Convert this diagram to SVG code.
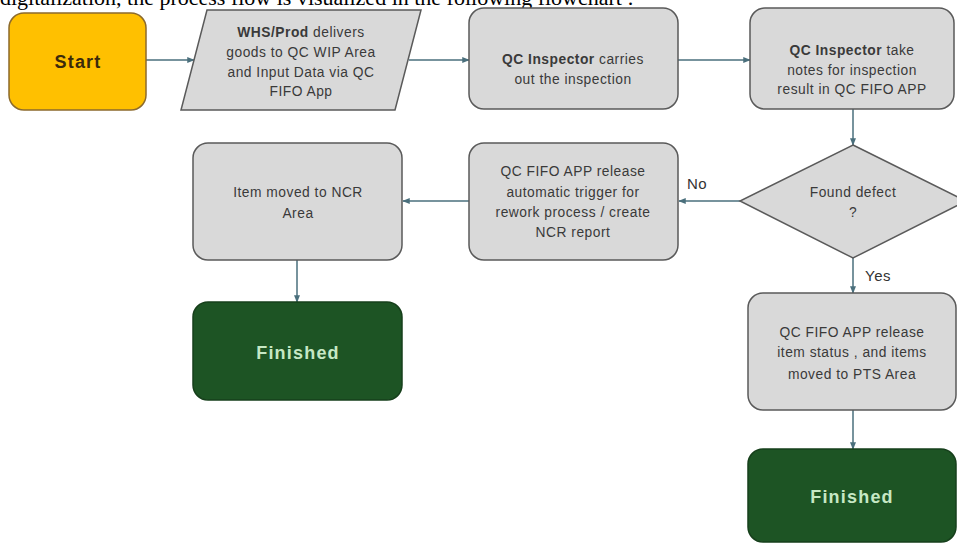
<svg xmlns="http://www.w3.org/2000/svg" width="957" height="544" viewBox="0 0 957 544">
  <defs>
    <marker id="arrow" viewBox="0 0 10 10" refX="9" refY="5" markerWidth="5" markerHeight="5" orient="auto-start-reverse">
      <path d="M0,1 L10,5 L0,9 z" fill="#4a6f7c"/>
    </marker>
    <style>
      .proc { fill: #d9d9d9; stroke: #5a5a5a; stroke-width: 1.5; }
      .term-start { fill: #ffc000; stroke: #8c6a2c; stroke-width: 1.5; }
      .term-end { fill: #1d5424; stroke: #163f1b; stroke-width: 1.5; }
      .lbl { font-family: "Liberation Sans", Arial, sans-serif; font-size: 13.8px; fill: #3a3a3a; text-anchor: middle; letter-spacing: 0.5px; }
      .bold { font-weight: bold; }
      .big { font-family: "Liberation Sans", Arial, sans-serif; font-size: 18px; font-weight: bold; text-anchor: middle; letter-spacing: 1.2px; }
      .edge { fill: none; stroke: #4a6f7c; stroke-width: 1.5; marker-end: url(#arrow); }
      .edge-lbl { font-family: "Liberation Sans", Arial, sans-serif; font-size: 15px; fill: #333; letter-spacing: 0.5px; }
      .caption { font-family: "Liberation Serif", "Times New Roman", serif; font-size: 22px; fill: #000; }
    </style>
  </defs>

  <rect width="957" height="544" fill="#ffffff"/>

  <text class="caption" x="0" y="5">digitalization, the process flow is visualized in the following flowchart :</text>

  <g id="connectors">
    <path class="edge" d="M146,60 L194,60"/>
    <path class="edge" d="M409,60 L469,60"/>
    <path class="edge" d="M678,60 L750,60"/>
    <path class="edge" d="M853,109 L853,145"/>
    <path class="edge" d="M740,201 L679,201"/>
    <path class="edge" d="M469,201 L403,201"/>
    <path class="edge" d="M297,260 L297,302"/>
    <path class="edge" d="M853,258 L853,293"/>
    <path class="edge" d="M853,410 L853,449"/>
    <text class="edge-lbl" x="687" y="189">No</text>
    <text class="edge-lbl" x="865" y="281">Yes</text>
  </g>

  <g id="start">
    <rect class="term-start" x="9" y="13" width="137" height="97" rx="15"/>
    <text class="big" x="78" y="68" fill="#3b2a0c">Start</text>
  </g>

  <g id="deliver">
    <polygon class="proc" points="207,10 421,10 395,110 181,110"/>
    <text class="lbl" x="301" y="37"><tspan class="bold">WHS/Prod</tspan> delivers</text>
    <text class="lbl" x="301" y="57">goods to QC WIP Area</text>
    <text class="lbl" x="301" y="77">and Input Data via QC</text>
    <text class="lbl" x="301" y="96">FIFO App</text>
  </g>

  <g id="inspect">
    <rect class="proc" x="469" y="8" width="209" height="101" rx="15"/>
    <text class="lbl" x="573" y="64"><tspan class="bold">QC Inspector</tspan> carries</text>
    <text class="lbl" x="573" y="84">out the inspection</text>
  </g>

  <g id="notes">
    <rect class="proc" x="750" y="8" width="204" height="101" rx="15"/>
    <text class="lbl" x="852" y="55"><tspan class="bold">QC Inspector</tspan> take</text>
    <text class="lbl" x="852" y="75">notes for inspection</text>
    <text class="lbl" x="852" y="94">result in QC FIFO APP</text>
  </g>

  <g id="decision">
    <polygon class="proc" points="853,145 966,201 853,258 740,201"/>
    <text class="lbl" x="853" y="197">Found defect</text>
    <text class="lbl" x="853" y="217">?</text>
  </g>

  <g id="ncr-report">
    <rect class="proc" x="469" y="143" width="209" height="117" rx="15"/>
    <text class="lbl" x="573" y="176">QC FIFO APP release</text>
    <text class="lbl" x="573" y="197">automatic trigger for</text>
    <text class="lbl" x="573" y="217">rework process / create</text>
    <text class="lbl" x="573" y="237">NCR report</text>
  </g>

  <g id="ncr-area">
    <rect class="proc" x="193" y="143" width="209" height="117" rx="15"/>
    <text class="lbl" x="298" y="197">Item moved to NCR</text>
    <text class="lbl" x="298" y="218">Area</text>
  </g>

  <g id="finished-ncr">
    <rect class="term-end" x="193" y="302" width="209" height="98" rx="15"/>
    <text class="big" x="298" y="359" fill="#c6e8c4">Finished</text>
  </g>

  <g id="pts-area">
    <rect class="proc" x="748" y="293" width="208" height="117" rx="15"/>
    <text class="lbl" x="852" y="337">QC FIFO APP release</text>
    <text class="lbl" x="852" y="357">item status , and items</text>
    <text class="lbl" x="852" y="379">moved to PTS Area</text>
  </g>

  <g id="finished-pts">
    <rect class="term-end" x="748" y="449" width="208" height="93" rx="15"/>
    <text class="big" x="852" y="503" fill="#c6e8c4">Finished</text>
  </g>
</svg>
